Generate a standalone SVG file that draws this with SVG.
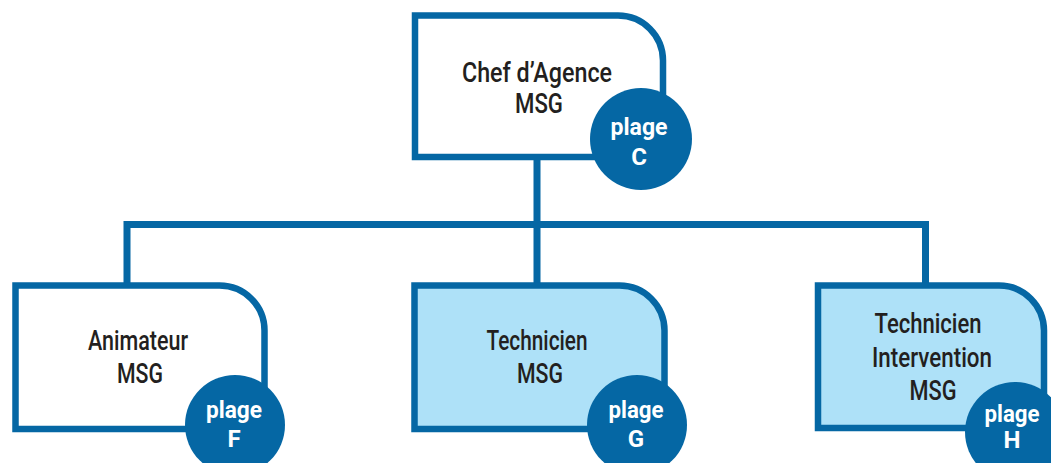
<svg xmlns="http://www.w3.org/2000/svg" width="1051" height="463" viewBox="0 0 1051 463">
<style>
.box{stroke:#0567a4;stroke-width:6.5;stroke-linejoin:miter}
.w{fill:#ffffff}
.b{fill:#aee1f8}
.con{stroke:#0567a4;stroke-width:7;fill:none}
.badge{fill:#0567a4}
.t{font-family:Roboto,"Liberation Sans",Arial,sans-serif;font-size:27px;font-weight:500;fill:#231f20;text-anchor:middle}
.p{font-family:Roboto,"Liberation Sans",Arial,sans-serif;font-size:24px;font-weight:bold;fill:#ffffff;text-anchor:middle}
</style>
<rect width="1051" height="463" fill="#ffffff"/>
<g id="connectors">
<path class="con" d="M537 157 V224.5 M127 288 V224.5 H925.5 V288 M537 224.5 V288"/>
</g>
<g id="chef">
<path class="box w" d="M415 15.5 H618 A45 45 0 0 1 663 60.5 V157 H415 Z"/>
<circle class="badge" cx="641" cy="139" r="51"/>
<text class="t" x="537" y="82" textLength="150" lengthAdjust="spacingAndGlyphs">Chef d’Agence</text>
<text class="t" x="539" y="113" textLength="48" lengthAdjust="spacingAndGlyphs">MSG</text>
<text class="p" x="639" y="135" textLength="57" lengthAdjust="spacingAndGlyphs">plage</text>
<text class="p" x="639" y="165">C</text>
</g>
<g id="animateur">
<path class="box w" d="M15.5 285.5 H219.5 A45 45 0 0 1 264.5 330.5 V429 H15.5 Z"/>
<circle class="badge" cx="235" cy="425" r="50"/>
<text class="t" x="138" y="350" textLength="100" lengthAdjust="spacingAndGlyphs">Animateur</text>
<text class="t" x="140" y="383" textLength="46" lengthAdjust="spacingAndGlyphs">MSG</text>
<text class="p" x="234" y="418" textLength="56" lengthAdjust="spacingAndGlyphs">plage</text>
<text class="p" x="234" y="447">F</text>
</g>
<g id="technicien">
<path class="box b" d="M414.5 285.5 H619.5 A45 45 0 0 1 664.5 330.5 V429 H414.5 Z"/>
<circle class="badge" cx="637" cy="425" r="50"/>
<text class="t" x="537" y="350" textLength="101" lengthAdjust="spacingAndGlyphs">Technicien</text>
<text class="t" x="540" y="383" textLength="46" lengthAdjust="spacingAndGlyphs">MSG</text>
<text class="p" x="636" y="418" textLength="55" lengthAdjust="spacingAndGlyphs">plage</text>
<text class="p" x="636" y="447">G</text>
</g>
<g id="technicien-intervention">
<path class="box b" d="M818 285.5 H999 A45 45 0 0 1 1044 330.5 V428 H818 Z"/>
<circle class="badge" cx="1015" cy="432" r="50"/>
<text class="t" x="928" y="333" textLength="107" lengthAdjust="spacingAndGlyphs">Technicien</text>
<text class="t" x="932" y="367" textLength="120" lengthAdjust="spacingAndGlyphs">Intervention</text>
<text class="t" x="933" y="400" textLength="47" lengthAdjust="spacingAndGlyphs">MSG</text>
<text class="p" x="1012" y="422" textLength="55" lengthAdjust="spacingAndGlyphs">plage</text>
<text class="p" x="1012" y="448">H</text>
</g>
</svg>
